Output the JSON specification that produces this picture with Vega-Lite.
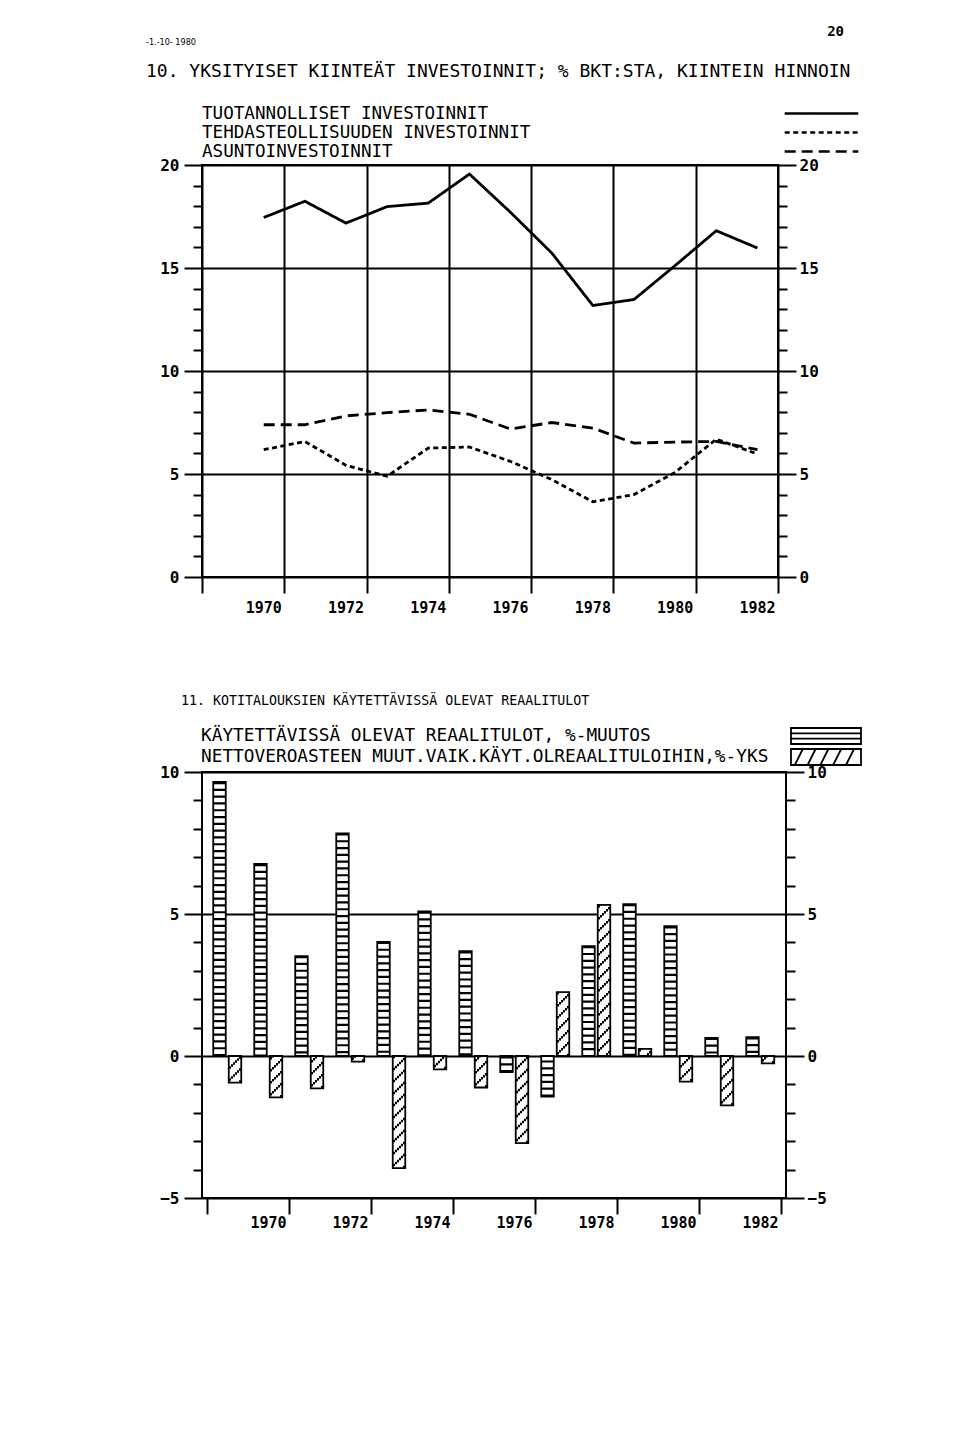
{
  "$schema": "https://vega.github.io/schema/vega-lite/v6.json",
  "background": "white",
  "padding": {"left": 145, "top": 25, "right": 5, "bottom": 5},
  "title": {
    "text": "20",
    "anchor": "end",
    "frame": "bounds",
    "font": "DejaVu Sans Mono",
    "fontSize": 14,
    "fontWeight": "bold",
    "color": "black",
    "offset": -2,
    "dx": -22
  },
  "resolve": {"legend": {"strokeDash": "independent", "fill": "independent"}},
  "config": {
    "view": {"stroke": "black", "strokeWidth": 2},
    "font": "DejaVu Sans Mono",
    "axis": {
      "domain": false,
      "title": null,
      "labelFont": "DejaVu Sans Mono",
      "labelFontWeight": "bold",
      "labelFontSize": 15,
      "labelColor": "black",
      "labelOverlap": false,
      "tickColor": "black",
      "tickWidth": 2,
      "gridColor": "black",
      "gridWidth": 2
    },
    "line": {"strokeCap": "butt"}
  },
  "spacing": 76,
  "vconcat": [
    {
      "width": 576,
      "height": 412,
      "title": {
        "text": "-1.-10- 1980",
        "subtitle": "10. YKSITYISET KIINTEÄT INVESTOINNIT; % BKT:STA, KIINTEIN HINNOIN",
        "anchor": "start",
        "frame": "group",
        "dx": -56,
        "offset": 23,
        "font": "DejaVu Sans Condensed",
        "fontSize": 9,
        "fontWeight": "normal",
        "color": "black",
        "subtitleFont": "DejaVu Sans Mono",
        "subtitleFontSize": 18,
        "subtitleFontWeight": "normal",
        "subtitleColor": "black",
        "subtitlePadding": 16
      },
      "data": {
        "values": [
          {"year": 1970, "series": "TUOTANNOLLISET INVESTOINNIT", "value": 17.45},
          {"year": 1971, "series": "TUOTANNOLLISET INVESTOINNIT", "value": 18.24},
          {"year": 1972, "series": "TUOTANNOLLISET INVESTOINNIT", "value": 17.18},
          {"year": 1973, "series": "TUOTANNOLLISET INVESTOINNIT", "value": 17.98},
          {"year": 1974, "series": "TUOTANNOLLISET INVESTOINNIT", "value": 18.15},
          {"year": 1975, "series": "TUOTANNOLLISET INVESTOINNIT", "value": 19.56},
          {"year": 1976, "series": "TUOTANNOLLISET INVESTOINNIT", "value": 17.7},
          {"year": 1977, "series": "TUOTANNOLLISET INVESTOINNIT", "value": 15.73},
          {"year": 1978, "series": "TUOTANNOLLISET INVESTOINNIT", "value": 13.18},
          {"year": 1979, "series": "TUOTANNOLLISET INVESTOINNIT", "value": 13.47},
          {"year": 1980, "series": "TUOTANNOLLISET INVESTOINNIT", "value": 15.12},
          {"year": 1981, "series": "TUOTANNOLLISET INVESTOINNIT", "value": 16.81},
          {"year": 1982, "series": "TUOTANNOLLISET INVESTOINNIT", "value": 15.97},
          {"year": 1970, "series": "TEHDASTEOLLISUUDEN INVESTOINNIT", "value": 6.18},
          {"year": 1971, "series": "TEHDASTEOLLISUUDEN INVESTOINNIT", "value": 6.58},
          {"year": 1972, "series": "TEHDASTEOLLISUUDEN INVESTOINNIT", "value": 5.42},
          {"year": 1973, "series": "TEHDASTEOLLISUUDEN INVESTOINNIT", "value": 4.89},
          {"year": 1974, "series": "TEHDASTEOLLISUUDEN INVESTOINNIT", "value": 6.26},
          {"year": 1975, "series": "TEHDASTEOLLISUUDEN INVESTOINNIT", "value": 6.31},
          {"year": 1976, "series": "TEHDASTEOLLISUUDEN INVESTOINNIT", "value": 5.61},
          {"year": 1977, "series": "TEHDASTEOLLISUUDEN INVESTOINNIT", "value": 4.73},
          {"year": 1978, "series": "TEHDASTEOLLISUUDEN INVESTOINNIT", "value": 3.65},
          {"year": 1979, "series": "TEHDASTEOLLISUUDEN INVESTOINNIT", "value": 4.0},
          {"year": 1980, "series": "TEHDASTEOLLISUUDEN INVESTOINNIT", "value": 5.08},
          {"year": 1981, "series": "TEHDASTEOLLISUUDEN INVESTOINNIT", "value": 6.69},
          {"year": 1982, "series": "TEHDASTEOLLISUUDEN INVESTOINNIT", "value": 5.97},
          {"year": 1970, "series": "ASUNTOINVESTOINNIT", "value": 7.39},
          {"year": 1971, "series": "ASUNTOINVESTOINNIT", "value": 7.39},
          {"year": 1972, "series": "ASUNTOINVESTOINNIT", "value": 7.82},
          {"year": 1973, "series": "ASUNTOINVESTOINNIT", "value": 7.98},
          {"year": 1974, "series": "ASUNTOINVESTOINNIT", "value": 8.11},
          {"year": 1975, "series": "ASUNTOINVESTOINNIT", "value": 7.9},
          {"year": 1976, "series": "ASUNTOINVESTOINNIT", "value": 7.18},
          {"year": 1977, "series": "ASUNTOINVESTOINNIT", "value": 7.5},
          {"year": 1978, "series": "ASUNTOINVESTOINNIT", "value": 7.23},
          {"year": 1979, "series": "ASUNTOINVESTOINNIT", "value": 6.5},
          {"year": 1980, "series": "ASUNTOINVESTOINNIT", "value": 6.55},
          {"year": 1981, "series": "ASUNTOINVESTOINNIT", "value": 6.58},
          {"year": 1982, "series": "ASUNTOINVESTOINNIT", "value": 6.18}
        ]
      },
      "layer": [
        {
          "mark": {"type": "line", "color": "black", "strokeWidth": 2.8},
          "encoding": {
            "x": {
              "field": "year", "type": "quantitative",
              "scale": {"domain": [1968.5, 1982.5], "nice": false, "zero": false},
              "axis": {
                "values": [1968.5, 1970.5, 1972.5, 1974.5, 1976.5, 1978.5, 1980.5, 1982.5],
                "grid": true, "tickSize": 16,
                "labelExpr": "datum.value < 1969 ? '' : format(datum.value - 0.5, 'd')",
                "labelAlign": "right", "labelBaseline": "top", "labelPadding": 7, "labelOffset": -3,
                "labelFlush": false, "labelOverlap": false, "labelFontSize": 15
              }
            },
            "y": {
              "field": "value", "type": "quantitative",
              "scale": {"domain": [0, 20], "nice": false},
              "axis": {
                "orient": "left",
                "values": [0,1,2,3,4,5,6,7,8,9,10,11,12,13,14,15,16,17,18,19,20],
                "labelExpr": "datum.value % 5 === 0 ? datum.label : ''",
                "tickSize": 18,
                "tickDash": {"condition": {"test": "datum.value % 5 === 0", "value": [40, 1]}, "value": [9, 40]},
                "grid": true,
                "gridOpacity": {"condition": {"test": "datum.value % 5 === 0", "value": 1}, "value": 0},
                "labelPadding": 5, "labelFontSize": 16, "labelOverlap": false
              }
            },
            "strokeDash": {
              "field": "series", "type": "nominal",
              "scale": {
                "domain": ["TUOTANNOLLISET INVESTOINNIT", "TEHDASTEOLLISUUDEN INVESTOINNIT", "ASUNTOINVESTOINNIT"],
                "range": [[1, 0], [5, 3.5], [11, 6]]
              },
              "legend": {
                "orient": "none", "legendX": 610, "legendY": -61, "direction": "vertical",
                "title": null,
                "symbolType": "M-4.6,0H4.6",
                "symbolSize": 256,
                "symbolStrokeWidth": 2.6,
                "symbolStrokeColor": "black",
                "symbolFillColor": "transparent",
                "labelFont": "DejaVu Sans Mono", "labelFontSize": 17.6, "labelFontWeight": "normal",
                "labelColor": "black", "labelAlign": "left", "labelOffset": -629, "labelLimit": 1000,
                "rowPadding": 0, "padding": 0
              }
            }
          }
        },
        {
          "mark": {"type": "point", "opacity": 0},
          "encoding": {
            "x": {"field": "year", "type": "quantitative"},
            "y": {
              "field": "value", "type": "quantitative",
              "scale": {"domain": [0, 20], "nice": false},
              "axis": {
                "orient": "right",
                "values": [0,1,2,3,4,5,6,7,8,9,10,11,12,13,14,15,16,17,18,19,20],
                "labelExpr": "datum.value % 5 === 0 ? datum.label : ''",
                "tickSize": 18,
                "tickDash": {"condition": {"test": "datum.value % 5 === 0", "value": [40, 1]}, "value": [9, 40]},
                "grid": false,
                "labelPadding": 3, "labelFontSize": 16, "labelOverlap": false
              }
            }
          }
        }
      ],
      "resolve": {"scale": {"y": "independent"}}
    },
    {
      "width": 584,
      "height": 426,
      "title": {
        "text": "11. KOTITALOUKSIEN KÄYTETTÄVISSÄ OLEVAT REAALITULOT",
        "anchor": "start",
        "frame": "group",
        "dx": -21,
        "offset": 20,
        "font": "DejaVu Sans Mono",
        "fontSize": 13.3,
        "fontWeight": "normal",
        "color": "black"
      },
      "data": {
        "values": [
          {"year": 1969, "kayt": 9.65, "netto": -0.94},
          {"year": 1970, "kayt": 6.76, "netto": -1.46},
          {"year": 1971, "kayt": 3.52, "netto": -1.14},
          {"year": 1972, "kayt": 7.84, "netto": -0.2},
          {"year": 1973, "kayt": 4.02, "netto": -3.95},
          {"year": 1974, "kayt": 5.09, "netto": -0.47},
          {"year": 1975, "kayt": 3.69, "netto": -1.11},
          {"year": 1976, "kayt": -0.57, "netto": -3.07},
          {"year": 1977, "kayt": -1.43, "netto": 2.25},
          {"year": 1978, "kayt": 3.87, "netto": 5.32},
          {"year": 1979, "kayt": 5.35, "netto": 0.25},
          {"year": 1980, "kayt": 4.57, "netto": -0.9},
          {"year": 1981, "kayt": 0.64, "netto": -1.74},
          {"year": 1982, "kayt": 0.66, "netto": -0.26}
        ]
      },
      "layer": [
        {
          "encoding": {
            "x": {
              "field": "year", "type": "quantitative",
              "scale": {"domain": [1968.5, 1982.5], "nice": false, "zero": false},
              "axis": {
                "values": [1968.5, 1970.5, 1972.5, 1974.5, 1976.5, 1978.5, 1980.5, 1982.5],
                "grid": false, "tickSize": 16,
                "labelExpr": "datum.value < 1969 ? '' : format(datum.value - 0.5, 'd')",
                "labelAlign": "right", "labelBaseline": "top", "labelPadding": 1, "labelOffset": -3,
                "labelFlush": false, "labelOverlap": false, "labelFontSize": 15
              }
            }
          },
          "layer": [
            {
              "mark": {"type": "bar", "width": 12.5, "xOffset": -8, "stroke": "black", "strokeWidth": 1.8},
              "encoding": {
                "y": {"field": "kayt", "type": "quantitative", "scale": {"domain": [-5, 10], "nice": false}, "axis": null},
                "fill": {
                  "datum": "KÄYTETTÄVISSÄ OLEVAT REAALITULOT, %-MUUTOS",
                  "type": "nominal",
                  "scale": {
                    "domain": ["KÄYTETTÄVISSÄ OLEVAT REAALITULOT, %-MUUTOS", "NETTOVEROASTEEN MUUT.VAIK.KÄYT.OLREAALITULOIHIN,%-YKS"],
                    "range": ["white", "white"]
                  },
                  "legend": {
                    "orient": "none", "legendX": 615, "legendY": -45, "direction": "vertical",
                    "title": null,
                    "symbolType": "M-4.375,-1H4.375V1H-4.375Z",
                    "symbolSize": 256,
                    "symbolStrokeWidth": 1.8,
                    "symbolStrokeColor": "black",
                    "symbolFillColor": "white",
                    "labelFont": "DejaVu Sans Mono", "labelFontSize": 17.8, "labelFontWeight": "normal",
                    "labelColor": "black", "labelAlign": "left", "labelOffset": -634, "labelLimit": 1000,
                    "rowPadding": -4, "padding": 0,
                    "encode": {
                      "symbols": {
                        "update": {
                          "shape": {"signal": "datum.index === 0 ? 'M-4.375,-1H4.375V1H-4.375Z M-4.375,-0.33H4.375 M-4.375,0.33H4.375' : 'M-4.375,-1H4.375V1H-4.375Z M-3.9,1L-2.9,-1 M-2.3,1L-1.3,-1 M-0.7,1L0.3,-1 M0.9,1L1.9,-1 M2.5,1L3.5,-1'"},
                          "stroke": {"value": "black"},
                          "strokeWidth": {"value": 1.8},
                          "fill": {"value": "white"}
                        }
                      }
                    }
                  }
                }
              }
            },
            {
              "mark": {"type": "rule", "xOffset": -8, "strokeWidth": 11, "strokeDash": [2.2, 4.6], "color": "black"},
              "encoding": {
                "y": {"field": "kayt", "type": "quantitative", "scale": {"domain": [-5, 10], "nice": false}, "axis": null},
                "y2": {"datum": 0}
              }
            },
            {
              "mark": {"type": "bar", "width": 12.5, "xOffset": 7.5, "stroke": "black", "strokeWidth": 1.8},
              "encoding": {
                "y": {"field": "netto", "type": "quantitative", "scale": {"domain": [-5, 10], "nice": false}, "axis": null},
                "fill": {"datum": "NETTOVEROASTEEN MUUT.VAIK.KÄYT.OLREAALITULOIHIN,%-YKS", "type": "nominal"}
              }
            },
            {
              "transform": [{"filter": "datum.netto > 0"}],
              "encoding": {
                "y": {"field": "netto", "type": "quantitative", "scale": {"domain": [-5, 10], "nice": false}, "axis": null},
                "y2": {"datum": 0}
              },
              "layer": [
                {"mark": {"type": "rule", "color": "black", "strokeWidth": 2, "xOffset": 2.5, "strokeDash": [2.5, 9.5], "strokeDashOffset": 0}},
                {"mark": {"type": "rule", "color": "black", "strokeWidth": 2, "xOffset": 4.5, "strokeDash": [2.5, 9.5], "strokeDashOffset": 2}},
                {"mark": {"type": "rule", "color": "black", "strokeWidth": 2, "xOffset": 6.5, "strokeDash": [2.5, 9.5], "strokeDashOffset": 4}},
                {"mark": {"type": "rule", "color": "black", "strokeWidth": 2, "xOffset": 8.5, "strokeDash": [2.5, 9.5], "strokeDashOffset": 6}},
                {"mark": {"type": "rule", "color": "black", "strokeWidth": 2, "xOffset": 10.5, "strokeDash": [2.5, 9.5], "strokeDashOffset": 8}},
                {"mark": {"type": "rule", "color": "black", "strokeWidth": 2, "xOffset": 12.5, "strokeDash": [2.5, 9.5], "strokeDashOffset": 10}}
              ]
            },
            {
              "transform": [{"filter": "datum.netto < 0"}],
              "encoding": {
                "y": {"field": "netto", "type": "quantitative", "scale": {"domain": [-5, 10], "nice": false}, "axis": null},
                "y2": {"datum": 0}
              },
              "layer": [
                {"mark": {"type": "rule", "color": "black", "strokeWidth": 2, "xOffset": 2.5, "strokeDash": [2.5, 9.5], "strokeDashOffset": 10}},
                {"mark": {"type": "rule", "color": "black", "strokeWidth": 2, "xOffset": 4.5, "strokeDash": [2.5, 9.5], "strokeDashOffset": 8}},
                {"mark": {"type": "rule", "color": "black", "strokeWidth": 2, "xOffset": 6.5, "strokeDash": [2.5, 9.5], "strokeDashOffset": 6}},
                {"mark": {"type": "rule", "color": "black", "strokeWidth": 2, "xOffset": 8.5, "strokeDash": [2.5, 9.5], "strokeDashOffset": 4}},
                {"mark": {"type": "rule", "color": "black", "strokeWidth": 2, "xOffset": 10.5, "strokeDash": [2.5, 9.5], "strokeDashOffset": 2}},
                {"mark": {"type": "rule", "color": "black", "strokeWidth": 2, "xOffset": 12.5, "strokeDash": [2.5, 9.5], "strokeDashOffset": 0}}
              ]
            }
          ]
        },
        {
          "mark": {"type": "point", "opacity": 0},
          "encoding": {
            "x": {"field": "year", "type": "quantitative"},
            "y": {
              "field": "kayt", "type": "quantitative",
              "scale": {"domain": [-5, 10], "nice": false},
              "axis": {
                "orient": "left",
                "values": [-5,-4,-3,-2,-1,0,1,2,3,4,5,6,7,8,9,10],
                "labelExpr": "datum.value % 5 === 0 ? datum.label : ''",
                "tickSize": 18,
                "tickDash": {"condition": {"test": "datum.value % 5 === 0", "value": [40, 1]}, "value": [9, 40]},
                "grid": true,
                "gridOpacity": {"condition": {"test": "datum.value % 5 === 0", "value": 1}, "value": 0},
                "labelPadding": 5, "labelFontSize": 16, "labelOverlap": false
              }
            }
          }
        },
        {
          "mark": {"type": "point", "opacity": 0},
          "encoding": {
            "x": {"field": "year", "type": "quantitative"},
            "y": {
              "field": "kayt", "type": "quantitative",
              "scale": {"domain": [-5, 10], "nice": false},
              "axis": {
                "orient": "right",
                "values": [-5,-4,-3,-2,-1,0,1,2,3,4,5,6,7,8,9,10],
                "labelExpr": "datum.value % 5 === 0 ? datum.label : ''",
                "tickSize": 18,
                "tickDash": {"condition": {"test": "datum.value % 5 === 0", "value": [40, 1]}, "value": [9, 40]},
                "grid": false,
                "labelPadding": 3, "labelFontSize": 16, "labelOverlap": false
              }
            }
          }
        }
      ],
      "resolve": {"scale": {"y": "independent"}}
    }
  ]
}
